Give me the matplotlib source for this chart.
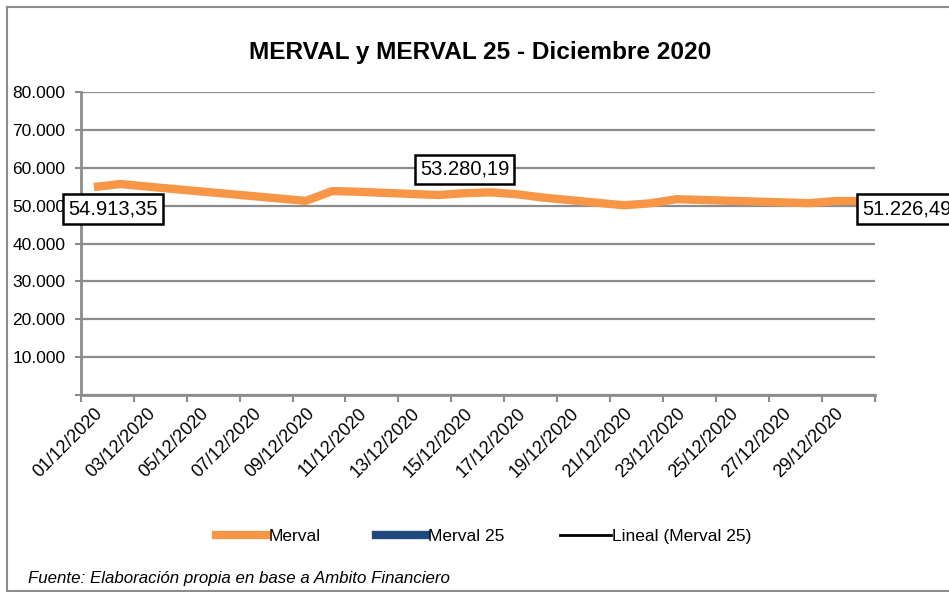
import matplotlib
matplotlib.use("Agg")
import matplotlib.pyplot as plt
from matplotlib.lines import Line2D
from matplotlib import font_manager

names = {f.name for f in font_manager.fontManager.ttflist}
NARROW = "Liberation Sans Narrow" if "Liberation Sans Narrow" in names else "Liberation Sans"
plt.rcParams["font.family"] = [NARROW, "DejaVu Sans"]

# ---- data ----
title = "MERVAL y MERVAL 25 - Diciembre 2020"
days = list(range(1, 31))  # calendar days of December shown on the axis
tick_labels = [f"{d:02d}/12/2020" for d in days[::2]]
merval_days = [1, 2, 3, 4, 9, 10, 11, 14, 15, 16, 17, 18, 21, 22, 23, 28, 29, 30]
merval_vals = [54913.35, 55700, 55050, 54400, 51250, 53850, 53650, 52800, 53280.19,
               53500, 52980, 52100, 50100, 50600, 51700, 50650, 51200, 51226.49]
merval25_days = []
merval25_vals = []
labelled = {1: "54.913,35", 15: "53.280,19", 30: "51.226,49"}
yticks = [0, 10000, 20000, 30000, 40000, 50000, 60000, 70000, 80000]
ytick_labels = ["", "10.000", "20.000", "30.000", "40.000", "50.000", "60.000", "70.000", "80.000"]
source = "Fuente: Elaboración propia en base a Ambito Financiero"

ORANGE = "#F79646"
BLUE = "#1F497D"
GRID = "#8C8C8C"

fig = plt.figure(figsize=(9.49, 5.92), dpi=100)
ax = fig.add_axes([80.7 / 949, 1 - 395 / 592, (875 - 80.7) / 949, (395 - 92) / 592])

x = [d - 1 for d in merval_days]
ax.plot(x, merval_vals, color=ORANGE, lw=6, solid_capstyle="butt",
        solid_joinstyle="round", zorder=3)
ax.plot([d - 1 for d in merval25_days], merval25_vals, color=BLUE, lw=6)

ax.set_xlim(-0.5, len(days) - 0.5)
ax.set_ylim(0, 80000)
ax.set_yticks(yticks)
ax.set_yticklabels(ytick_labels, fontsize=12.5)
ax.set_xticks([i - 0.5 for i in range(0, len(days) + 1, 2)])
ax.set_xticklabels([])
ax.set_xticks(list(range(0, len(days), 2)), minor=True)
ax.set_xticklabels(tick_labels, minor=True, rotation=45, ha="right", va="top",
                   rotation_mode="anchor", fontsize=13)
ax.tick_params(axis="x", which="minor", length=0, pad=7)
ax.tick_params(axis="x", which="major", length=5, width=1.5, color=GRID, direction="out")
ax.tick_params(axis="y", length=4, width=1.5, color=GRID, direction="out", pad=7)
ax.grid(axis="y", color=GRID, lw=1.6, zorder=0)
ax.set_axisbelow(True)
for s in ["top", "right"]:
    ax.spines[s].set_visible(False)
for s in ["left", "bottom"]:
    ax.spines[s].set_color(GRID)
    ax.spines[s].set_linewidth(2)

offsets = {1: (19, -22), 15: (0, 24), 30: (45, -8)}
for d, txt in labelled.items():
    i = merval_days.index(d)
    ax.annotate(txt, (d - 1, merval_vals[i]), xytext=offsets[d], textcoords="offset pixels",
                ha="center", va="center", fontsize=14.5, zorder=5, annotation_clip=False,
                bbox=dict(boxstyle="square,pad=0.25", fc="white", ec="black", lw=1.8))

fig.text(480 / 949, 1 - 52 / 592, title, ha="center", va="center",
         fontsize=17.6, fontweight="bold")

handles = [Line2D([], [], color=ORANGE, lw=6),
           Line2D([], [], color=BLUE, lw=6),
           Line2D([], [], color="black", lw=2)]
fig.legend(handles, ["Merval", "Merval 25", "Lineal (Merval 25)"], loc="center",
           bbox_to_anchor=(484 / 949, 1 - 536 / 592), ncol=3, frameon=False,
           fontsize=12.5, handlelength=2.9, handletextpad=0.1, columnspacing=3.2)

fig.text(28 / 949, 1 - 579 / 592, source, ha="left", va="center",
         fontsize=12.2, style="italic")

# chart area border (left, top, bottom)
bc = "#8C8C8C"
fig.add_artist(Line2D([7 / 949, 7 / 949], [1 - 591 / 592, 1 - 7 / 592], color=bc, lw=1.5))
fig.add_artist(Line2D([7 / 949, 1], [1 - 7 / 592, 1 - 7 / 592], color=bc, lw=1.5))
fig.add_artist(Line2D([7 / 949, 1], [1 - 591 / 592, 1 - 591 / 592], color=bc, lw=1.5))

fig.savefig("out.png", dpi=100)
